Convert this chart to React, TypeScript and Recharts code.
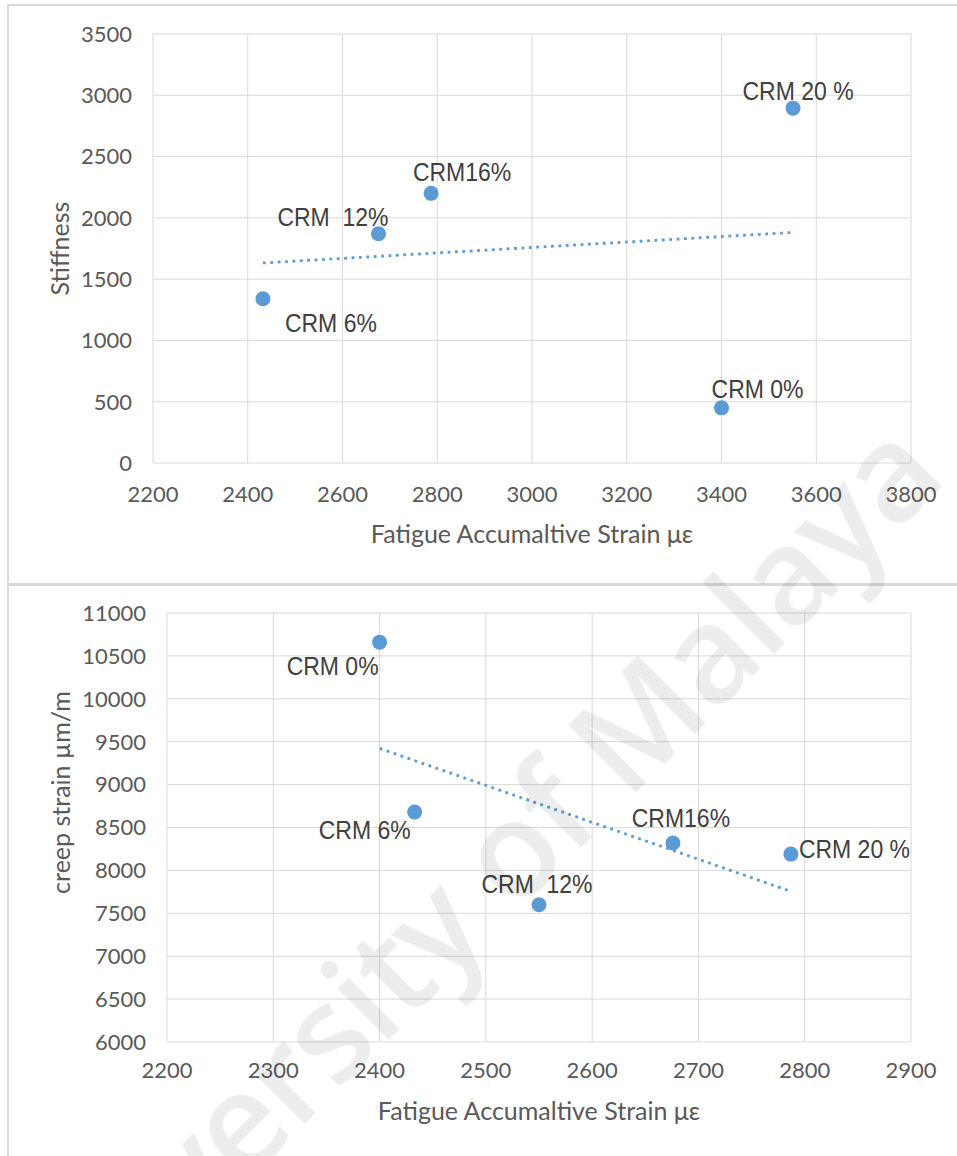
import React from 'react';
import { ScatterChart, Scatter, XAxis, YAxis, CartesianGrid, ReferenceLine, Label } from 'recharts';

// ---- data ----
const mixNames = ['CRM 0%', 'CRM 6%', 'CRM  12%', 'CRM16%', 'CRM 20 %'];

// top chart: stiffness vs fatigue accumulative strain
const fatigueStrainA = [3400, 2432, 2676, 2787, 3551];
const stiffness = [450, 1340, 1870, 2200, 2895];
const trendA_x = [2432, 3551];
const trendA_y = [1632, 1881];
const xTicksA = [2200, 2400, 2600, 2800, 3000, 3200, 3400, 3600, 3800];
const yTicksA = [0, 500, 1000, 1500, 2000, 2500, 3000, 3500];

// bottom chart: creep strain vs fatigue accumulative strain
const fatigueStrainB = [2400, 2433, 2550, 2676, 2787];
const creepStrain = [10660, 8680, 7600, 8320, 8190];
const trendB_x = [2400, 2787];
const trendB_y = [9422, 7755];
const xTicksB = [2200, 2300, 2400, 2500, 2600, 2700, 2800, 2900];
const yTicksB = [6000, 6500, 7000, 7500, 8000, 8500, 9000, 9500, 10000, 10500, 11000];

const pointsA = mixNames.map((name, i) => ({ name, x: fatigueStrainA[i], y: stiffness[i] }));
const pointsB = mixNames.map((name, i) => ({ name, x: fatigueStrainB[i], y: creepStrain[i] }));

// label placement relative to each marker (layout only)
type Off = { dx: number; dy: number; anchor: 'start' | 'middle' | 'end' };
const labelPosA: Record<string, Off> = {
    'CRM 0%': { dx: 36, dy: -19, anchor: 'middle' },
    'CRM 6%': { dx: 22, dy: 24, anchor: 'start' },
    'CRM  12%': { dx: 10, dy: -17, anchor: 'end' },
    'CRM16%': { dx: 31, dy: -21, anchor: 'middle' },
    'CRM 20 %': { dx: 5, dy: -17, anchor: 'middle' },
};
const labelPosB: Record<string, Off> = {
    'CRM 0%': { dx: -1, dy: 24, anchor: 'end' },
    'CRM 6%': { dx: -4, dy: 18, anchor: 'end' },
    'CRM  12%': { dx: -2, dy: -21, anchor: 'middle' },
    'CRM16%': { dx: 8, dy: -25, anchor: 'middle' },
    'CRM 20 %': { dx: 8, dy: -5, anchor: 'start' },
};

const BLUE = '#5B9BD5';
const GRID = '#D9D9D9';
const AXIS_TEXT = '#595959';
const tickStyle = { fill: AXIS_TEXT, fontSize: 22, fontFamily: 'Lato' };

const markerWithLabel = (pos: Record<string, Off>) => (props: any) => {
    const { cx, cy, payload } = props;
    const o = pos[payload.name];
    const tx = cx + o.dx;
    const ty = cy + o.dy;
    return (
        <g>
            <circle cx={cx} cy={cy} r={7.5} fill={BLUE} />
            {/* the source picture is slightly stretched vertically */}
            <text
                x={0}
                y={0}
                transform={`translate(${tx} ${ty}) scale(1 1.1)`}
                textAnchor={o.anchor}
                dominantBaseline="central"
                fill="#404040"
                fontSize={23}
                fontFamily="'Liberation Sans', Arial, sans-serif"
                style={{ whiteSpace: 'pre' }}
            >
                {payload.name}
            </text>
        </g>
    );
};

const xTitle = (text: string, fromBottom: number) => (props: any) => {
    const vb = props.viewBox || {};
    return (
        <text x={vb.x + vb.width / 2} y={vb.y + vb.height - fromBottom} textAnchor="middle"
            fill={AXIS_TEXT} fontSize={25} fontFamily="Lato">{text}</text>
    );
};

const yTitle = (text: string, left: number, shift: number) => (props: any) => {
    const vb = props.viewBox || {};
    const cx = vb.x + left;
    const cy = vb.y + vb.height / 2 + shift;
    return (
        <text x={cx} y={cy} transform={`rotate(-90 ${cx} ${cy})`} textAnchor="middle" dominantBaseline="central"
            fill={AXIS_TEXT} fontSize={25} fontFamily="Lato">{text}</text>
    );
};

export default function App() {
    return (
        <div style={{ position: 'absolute', left: 0, top: 0, width: 957, height: 1156, background: '#fff', overflow: 'hidden' }}>
            {/* panel frames */}
            <div style={{ position: 'absolute', left: 7, top: 4, width: 980, height: 577, borderLeft: `2px solid ${GRID}`, borderTop: `2px solid ${GRID}`, borderBottom: `2px solid ${GRID}` }} />
            <div style={{ position: 'absolute', left: 7, top: 584, width: 980, height: 600, borderLeft: `2px solid ${GRID}`, borderTop: `2px solid ${GRID}` }} />

            {/* Stiffness */}
            <div style={{ position: 'absolute', left: 0, top: 0 }}>
                <ScatterChart width={957} height={578} margin={{ top: 34, right: 46, bottom: 0, left: 0 }}>
                    <CartesianGrid stroke={GRID} />
                    <XAxis type="number" dataKey="x" domain={[2200, 3800]} ticks={xTicksA} interval={0}
                        height={115} tickSize={0} tickMargin={23} axisLine={false} tickLine={false} tick={tickStyle}>
                        <Label content={xTitle('Fatigue Accumaltive Strain με', 35)} />
                    </XAxis>
                    <YAxis type="number" dataKey="y" domain={[0, 3500]} ticks={yTicksA} interval={0}
                        width={153} tickSize={0} tickMargin={21} axisLine={false} tickLine={false} tick={tickStyle}>
                        <Label content={yTitle('Stiffness', 59, 0)} />
                    </YAxis>
                    <ReferenceLine
                        segment={[{ x: trendA_x[0], y: trendA_y[0] }, { x: trendA_x[1], y: trendA_y[1] }]}
                        stroke={BLUE} strokeWidth={2.8} strokeDasharray="2.8 4.6" ifOverflow="visible" />
                    <Scatter data={pointsA} isAnimationActive={false} shape={markerWithLabel(labelPosA)} />
                </ScatterChart>
            </div>

            {/* Creep strain */}
            <div style={{ position: 'absolute', left: 0, top: 578 }}>
                <ScatterChart width={957} height={578} margin={{ top: 35, right: 46, bottom: 0, left: 0 }}>
                    <CartesianGrid stroke={GRID} />
                    <XAxis type="number" dataKey="x" domain={[2200, 2900]} ticks={xTicksB} interval={0}
                        height={114} tickSize={0} tickMargin={20} axisLine={false} tickLine={false} tick={tickStyle}>
                        <Label content={xTitle('Fatigue Accumaltive Strain με', 36)} />
                    </XAxis>
                    <YAxis type="number" dataKey="y" domain={[6000, 11000]} ticks={yTicksB} interval={0}
                        width={167} tickSize={0} tickMargin={21} axisLine={false} tickLine={false} tick={tickStyle}>
                        <Label content={yTitle('creep strain µm/m', 60, -35)} />
                    </YAxis>
                    <ReferenceLine
                        segment={[{ x: trendB_x[0], y: trendB_y[0] }, { x: trendB_x[1], y: trendB_y[1] }]}
                        stroke={BLUE} strokeWidth={2.8} strokeDasharray="2.8 4.6" ifOverflow="visible" />
                    <Scatter data={pointsB} isAnimationActive={false} shape={markerWithLabel(labelPosB)} />
                </ScatterChart>
            </div>

            {/* watermark, cut by the page edge as in the source */}
            <svg width={957} height={1156} style={{ position: 'absolute', left: 0, top: 0, pointerEvents: 'none' }}>
                <text x={458} y={897} transform="rotate(-45 458 897)" textAnchor="middle" dominantBaseline="central"
                    fontSize={134} fontWeight={600} letterSpacing={-2} fontFamily="'Open Sans', sans-serif"
                    fill="#000" fillOpacity={0.07}>
                    University of Malaya
                </text>
            </svg>
        </div>
    );
}
